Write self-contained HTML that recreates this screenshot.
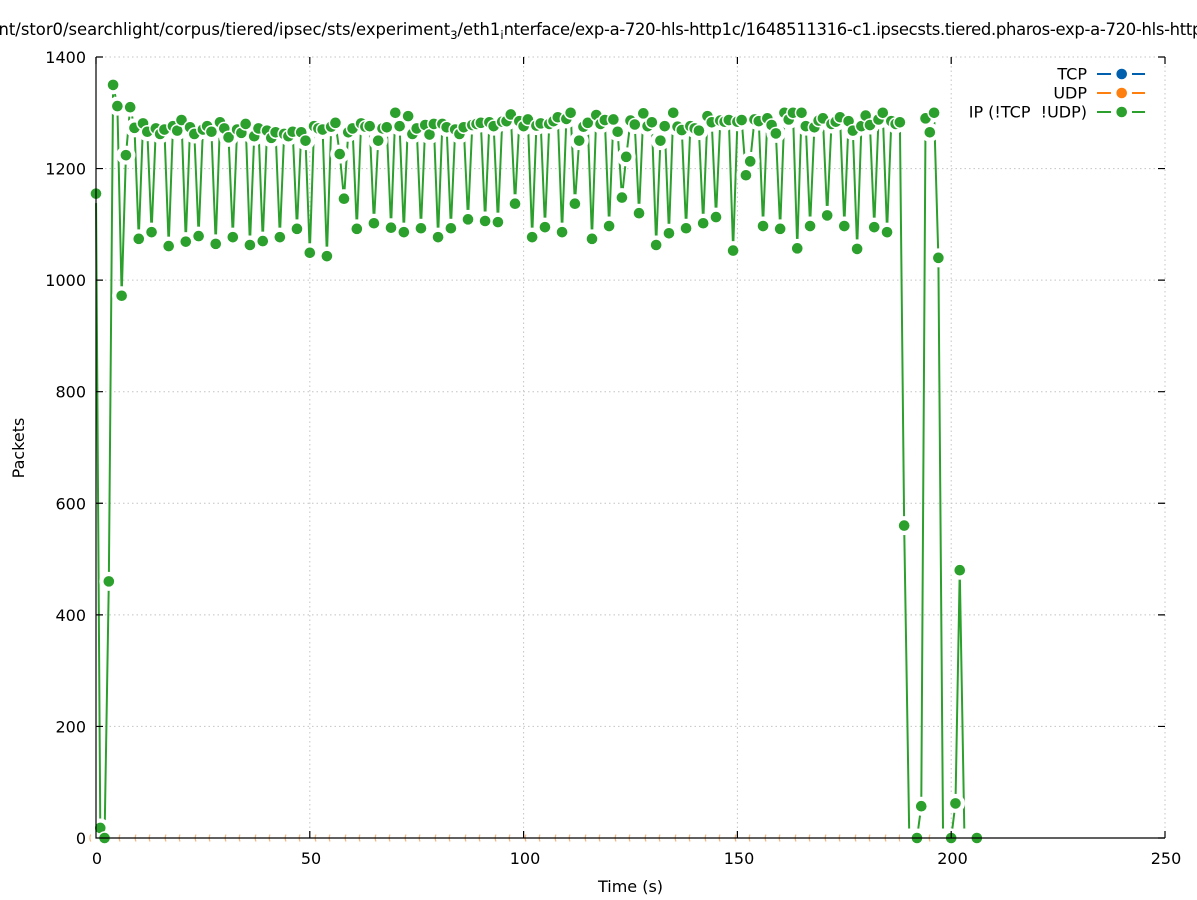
<!DOCTYPE html>
<html>
<head>
<meta charset="utf-8">
<style>
  html,body{margin:0;padding:0;background:#fff;}
  svg{display:block;}
  text{font-family:"DejaVu Sans","Liberation Sans",sans-serif;fill:#000;}
</style>
</head>
<body>
<svg width="1197" height="900" viewBox="0 0 1197 900" xmlns="http://www.w3.org/2000/svg">
  <defs>
    <marker id="gap" markerUnits="userSpaceOnUse" markerWidth="1" markerHeight="1" refX="0" refY="0" overflow="visible" orient="0">
      <g transform="scale(0.233863,-1.792565)"><circle r="9.5" fill="#fff"/></g>
    </marker>
    <marker id="pt" markerUnits="userSpaceOnUse" markerWidth="1" markerHeight="1" refX="0" refY="0" overflow="visible" orient="0">
      <g transform="scale(0.233863,-1.792565)"><circle r="6.8" fill="#fff"/><circle r="5.3" fill="#2ca02c"/></g>
    </marker>
  </defs>

  <rect width="1197" height="900" fill="#fff"/>

  <!-- title -->
  <text x="-23" y="35" font-size="16.4">/mnt/stor0/searchlight/corpus/tiered/ipsec/sts/experiment<tspan font-size="11.5" dy="4">3</tspan><tspan dy="-4">/eth1</tspan><tspan font-size="11.5" dy="4">i</tspan><tspan dy="-4" letter-spacing="-0.3">nterface/exp-a-720-hls-http1c/1648511316-c1.ipsecsts.tiered.pharos-exp-a-720-hls-http1c-eth1</tspan></text>

  <!-- grid -->
  <g stroke="#c4c4c4" stroke-width="1" stroke-dasharray="1.5,3" fill="none">
    <path d="M309.8 57V838M523.6 57V838M737.4 57V838M951.2 57V838M1165 57V838"/>
    <path d="M96 726.43H1165M96 614.86H1165M96 503.28H1165M96 391.71H1165M96 280.14H1165M96 168.57H1165M96 57H1165"/>
  </g>

  <!-- faint orange UDP fragments at zero -->
  <path fill="none" stroke="#fbb57a" stroke-width="1.2" d="M90.7 834.5q-1.6 3.5 0 7M120 834.5q-1.6 3.5 0 7M136 834.5q-1.6 3.5 0 7M150 834.5q-1.6 3.5 0 7M166 834.5q-1.6 3.5 0 7M180 834.5q-1.6 3.5 0 7M196 834.5q-1.6 3.5 0 7M210 834.5q-1.6 3.5 0 7M226 834.5q-1.6 3.5 0 7M240 834.5q-1.6 3.5 0 7M256 834.5q-1.6 3.5 0 7M270 834.5q-1.6 3.5 0 7M286 834.5q-1.6 3.5 0 7M300 834.5q-1.6 3.5 0 7M316 834.5q-1.6 3.5 0 7M330 834.5q-1.6 3.5 0 7M346 834.5q-1.6 3.5 0 7M360 834.5q-1.6 3.5 0 7M376 834.5q-1.6 3.5 0 7M390 834.5q-1.6 3.5 0 7M406 834.5q-1.6 3.5 0 7M420 834.5q-1.6 3.5 0 7M436 834.5q-1.6 3.5 0 7M450 834.5q-1.6 3.5 0 7M466 834.5q-1.6 3.5 0 7M480 834.5q-1.6 3.5 0 7M496 834.5q-1.6 3.5 0 7M510 834.5q-1.6 3.5 0 7M526 834.5q-1.6 3.5 0 7M540 834.5q-1.6 3.5 0 7M556 834.5q-1.6 3.5 0 7M570 834.5q-1.6 3.5 0 7M586 834.5q-1.6 3.5 0 7M600 834.5q-1.6 3.5 0 7M616 834.5q-1.6 3.5 0 7M630 834.5q-1.6 3.5 0 7M646 834.5q-1.6 3.5 0 7M660 834.5q-1.6 3.5 0 7M676 834.5q-1.6 3.5 0 7M690 834.5q-1.6 3.5 0 7M706 834.5q-1.6 3.5 0 7M720 834.5q-1.6 3.5 0 7M736 834.5q-1.6 3.5 0 7M750 834.5q-1.6 3.5 0 7M766 834.5q-1.6 3.5 0 7M780 834.5q-1.6 3.5 0 7M796 834.5q-1.6 3.5 0 7M810 834.5q-1.6 3.5 0 7M826 834.5q-1.6 3.5 0 7M840 834.5q-1.6 3.5 0 7M856 834.5q-1.6 3.5 0 7M870 834.5q-1.6 3.5 0 7M886 834.5q-1.6 3.5 0 7M900 834.5q-1.6 3.5 0 7M930 834.5q-1.6 3.5 0 7"/>

  <!-- data (IP series) in data coordinates -->
  <g transform="translate(96,838) scale(4.276,-0.55786)">
    <polyline fill="none" stroke="#2ca02c" stroke-width="2" vector-effect="non-scaling-stroke" stroke-linejoin="round"
      points="0,1155 1,18 2,0 3,460 4,1350 5,1312 6,972 7,1224 8,1310 9,1273 10,1074 11,1281 12,1266 13,1086 14,1272 15,1262 16,1270 17,1061 18,1276 19,1268 20,1287 21,1069 22,1274 23,1262 24,1079 25,1270 26,1276 27,1266 28,1065 29,1283 30,1272 31,1256 32,1077 33,1270 34,1264 35,1280 36,1063 37,1258 38,1272 39,1070 40,1268 41,1255 42,1265 43,1077 44,1262 45,1258 46,1266 47,1092 48,1265 49,1250 50,1049 51,1276 52,1272 53,1270 54,1043 55,1275 56,1282 57,1226 58,1146 59,1265 60,1272 61,1092 62,1281 63,1275 64,1276 65,1102 66,1250 67,1272 68,1274 69,1094 70,1300 71,1276 72,1086 73,1294 74,1262 75,1272 76,1093 77,1278 78,1261 79,1280 80,1077 81,1280 82,1274 83,1093 84,1270 85,1262 86,1274 87,1109 88,1278 89,1280 90,1282 91,1106 92,1283 93,1276 94,1104 95,1284 96,1285 97,1297 98,1137 99,1285 100,1276 101,1288 102,1077 103,1277 104,1281 105,1095 106,1280 107,1285 108,1292 109,1086 110,1289 111,1300 112,1137 113,1250 114,1275 115,1282 116,1074 117,1296 118,1280 119,1287 120,1097 121,1288 122,1266 123,1148 124,1221 125,1286 126,1279 127,1120 128,1299 129,1276 130,1283 131,1063 132,1250 133,1276 134,1084 135,1300 136,1275 137,1269 138,1093 139,1276 140,1272 141,1268 142,1102 143,1294 144,1283 145,1113 146,1286 147,1284 148,1287 149,1053 150,1284 151,1287 152,1188 153,1213 154,1288 155,1285 156,1097 157,1290 158,1278 159,1263 160,1092 161,1300 162,1288 163,1300 164,1057 165,1300 166,1276 167,1097 168,1274 169,1286 170,1290 171,1116 172,1280 173,1284 174,1292 175,1097 176,1285 177,1268 178,1056 179,1276 180,1295 181,1278 182,1095 183,1288 184,1300 185,1086 186,1285 187,1280 188,1283 189,560 190.2,0 192,0 193,57 194,1290 195,1265 196,1300 197,1040 198.1,0 200,0 201,62 202,480 203.1,0 206,0"/>
    <polyline fill="none" stroke="none" marker-start="url(#gap)" marker-mid="url(#gap)" marker-end="url(#gap)"
      points="0,1155 1,18 2,0 3,460 4,1350 5,1312 6,972 7,1224 8,1310 9,1273 10,1074 11,1281 12,1266 13,1086 14,1272 15,1262 16,1270 17,1061 18,1276 19,1268 20,1287 21,1069 22,1274 23,1262 24,1079 25,1270 26,1276 27,1266 28,1065 29,1283 30,1272 31,1256 32,1077 33,1270 34,1264 35,1280 36,1063 37,1258 38,1272 39,1070 40,1268 41,1255 42,1265 43,1077 44,1262 45,1258 46,1266 47,1092 48,1265 49,1250 50,1049 51,1276 52,1272 53,1270 54,1043 55,1275 56,1282 57,1226 58,1146 59,1265 60,1272 61,1092 62,1281 63,1275 64,1276 65,1102 66,1250 67,1272 68,1274 69,1094 70,1300 71,1276 72,1086 73,1294 74,1262 75,1272 76,1093 77,1278 78,1261 79,1280 80,1077 81,1280 82,1274 83,1093 84,1270 85,1262 86,1274 87,1109 88,1278 89,1280 90,1282 91,1106 92,1283 93,1276 94,1104 95,1284 96,1285 97,1297 98,1137 99,1285 100,1276 101,1288 102,1077 103,1277 104,1281 105,1095 106,1280 107,1285 108,1292 109,1086 110,1289 111,1300 112,1137 113,1250 114,1275 115,1282 116,1074 117,1296 118,1280 119,1287 120,1097 121,1288 122,1266 123,1148 124,1221 125,1286 126,1279 127,1120 128,1299 129,1276 130,1283 131,1063 132,1250 133,1276 134,1084 135,1300 136,1275 137,1269 138,1093 139,1276 140,1272 141,1268 142,1102 143,1294 144,1283 145,1113 146,1286 147,1284 148,1287 149,1053 150,1284 151,1287 152,1188 153,1213 154,1288 155,1285 156,1097 157,1290 158,1278 159,1263 160,1092 161,1300 162,1288 163,1300 164,1057 165,1300 166,1276 167,1097 168,1274 169,1286 170,1290 171,1116 172,1280 173,1284 174,1292 175,1097 176,1285 177,1268 178,1056 179,1276 180,1295 181,1278 182,1095 183,1288 184,1300 185,1086 186,1285 187,1280 188,1283 189,560 190.2,0 192,0 193,57 194,1290 195,1265 196,1300 197,1040 198.1,0 200,0 201,62 202,480 203.1,0 206,0"/>
    <polyline fill="none" stroke="none" marker-start="url(#pt)" marker-mid="url(#pt)" marker-end="url(#pt)"
      points="0,1155 1,18 2,0 3,460 4,1350 5,1312 6,972 7,1224 8,1310 9,1273 10,1074 11,1281 12,1266 13,1086 14,1272 15,1262 16,1270 17,1061 18,1276 19,1268 20,1287 21,1069 22,1274 23,1262 24,1079 25,1270 26,1276 27,1266 28,1065 29,1283 30,1272 31,1256 32,1077 33,1270 34,1264 35,1280 36,1063 37,1258 38,1272 39,1070 40,1268 41,1255 42,1265 43,1077 44,1262 45,1258 46,1266 47,1092 48,1265 49,1250 50,1049 51,1276 52,1272 53,1270 54,1043 55,1275 56,1282 57,1226 58,1146 59,1265 60,1272 61,1092 62,1281 63,1275 64,1276 65,1102 66,1250 67,1272 68,1274 69,1094 70,1300 71,1276 72,1086 73,1294 74,1262 75,1272 76,1093 77,1278 78,1261 79,1280 80,1077 81,1280 82,1274 83,1093 84,1270 85,1262 86,1274 87,1109 88,1278 89,1280 90,1282 91,1106 92,1283 93,1276 94,1104 95,1284 96,1285 97,1297 98,1137 99,1285 100,1276 101,1288 102,1077 103,1277 104,1281 105,1095 106,1280 107,1285 108,1292 109,1086 110,1289 111,1300 112,1137 113,1250 114,1275 115,1282 116,1074 117,1296 118,1280 119,1287 120,1097 121,1288 122,1266 123,1148 124,1221 125,1286 126,1279 127,1120 128,1299 129,1276 130,1283 131,1063 132,1250 133,1276 134,1084 135,1300 136,1275 137,1269 138,1093 139,1276 140,1272 141,1268 142,1102 143,1294 144,1283 145,1113 146,1286 147,1284 148,1287 149,1053 150,1284 151,1287 152,1188 153,1213 154,1288 155,1285 156,1097 157,1290 158,1278 159,1263 160,1092 161,1300 162,1288 163,1300 164,1057 165,1300 166,1276 167,1097 168,1274 169,1286 170,1290 171,1116 172,1280 173,1284 174,1292 175,1097 176,1285 177,1268 178,1056 179,1276 180,1295 181,1278 182,1095 183,1288 184,1300 185,1086 186,1285 187,1280 188,1283 189,560 192,0 193,57 194,1290 195,1265 196,1300 197,1040 200,0 201,62 202,480 206,0"/>
  </g>

  <!-- axes (left + bottom border) -->
  <path d="M96 57V838H1165" fill="none" stroke="#000" stroke-width="1.2"/>
  <!-- ticks -->
  <path fill="none" stroke="#000" stroke-width="1.2"
    d="M96 726.43h7M96 614.86h7M96 503.28h7M96 391.71h7M96 280.14h7M96 168.57h7M96 57h7
       M1165 838h-7M1165 726.43h-7M1165 614.86h-7M1165 503.28h-7M1165 391.71h-7M1165 280.14h-7M1165 168.57h-7M1165 57h-7
       M309.8 838v-7M523.6 838v-7M737.4 838v-7M951.2 838v-7M1165 838v-7
       M96 57v7M309.8 57v7M523.6 57v7M737.4 57v7M951.2 57v7M1165 57v7"/>

  <!-- y tick labels -->
  <g font-size="16" text-anchor="end">
    <text x="86" y="844">0</text>
    <text x="86" y="732.4">200</text>
    <text x="86" y="620.9">400</text>
    <text x="86" y="509.3">600</text>
    <text x="86" y="397.7">800</text>
    <text x="86" y="286.1">1000</text>
    <text x="86" y="174.6">1200</text>
    <text x="86" y="63">1400</text>
  </g>
  <!-- x tick labels -->
  <g font-size="16" text-anchor="middle">
    <text x="97" y="864">0</text>
    <text x="311" y="864">50</text>
    <text x="525" y="864">100</text>
    <text x="739" y="864">150</text>
    <text x="952.5" y="864">200</text>
    <text x="1166" y="864">250</text>
  </g>

  <!-- axis labels -->
  <text x="630.5" y="892" font-size="16" text-anchor="middle">Time (s)</text>
  <text transform="translate(24,448) rotate(-90)" font-size="16" text-anchor="middle">Packets</text>

  <!-- legend -->
  <g font-size="16" text-anchor="end">
    <text x="1087" y="79.5">TCP</text>
    <text x="1087" y="98.5">UDP</text>
    <text x="1087" y="117.5">IP (!TCP&#160; !UDP)</text>
  </g>
  <g stroke-width="2" fill="none">
    <path d="M1097 74H1111M1132 74H1145" stroke="#0060ad"/>
    <path d="M1097 93H1111M1132 93H1145" stroke="#ff7f0e"/>
    <path d="M1097 112H1111M1132 112H1145" stroke="#2ca02c"/>
  </g>
  <circle cx="1121.7" cy="74" r="6.8" fill="#fff"/><circle cx="1121.7" cy="74" r="5.3" fill="#0060ad"/>
  <circle cx="1121.7" cy="93" r="6.8" fill="#fff"/><circle cx="1121.7" cy="93" r="5.3" fill="#ff7f0e"/>
  <circle cx="1121.7" cy="112" r="6.8" fill="#fff"/><circle cx="1121.7" cy="112" r="5.3" fill="#2ca02c"/>
</svg>
</body>
</html>
